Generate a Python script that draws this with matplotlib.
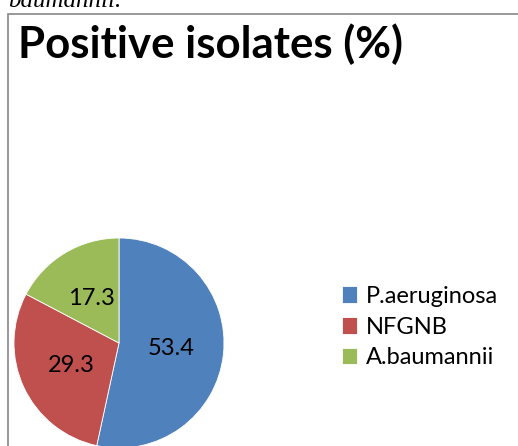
import matplotlib
matplotlib.use("Agg")
import matplotlib.pyplot as plt
from matplotlib.patches import Rectangle

# data
organismos = ["P.aeruginosa", "NFGNB", "A.baumannii"]
valores = [53.4, 29.3, 17.3]
cores = ["#4F81BD", "#C0504D", "#9BBB59"]
rotulos = ["53.4", "29.3", "17.3"]
titulo = "Positive isolates (%)"

plt.rcParams['font.family'] = ['Lato', 'DejaVu Sans']

W, H = 518, 446
fig = plt.figure(figsize=(W / 100, H / 100), dpi=100)

# caption text cut at the top of the page
fig.text(8 / W, 1 - 7 / H, "baumannii.", family="Liberation Serif", style="italic",
         fontsize=18, va="baseline", ha="left")

# chart frame
fig.patches.append(Rectangle((8 / W, -0.1), 1.2, 1 - 14 / H + 0.1, transform=fig.transFigure,
                             fill=False, edgecolor="#888888", linewidth=1.2))

fig.text(18 / W, 1 - 58 / H, titulo, fontsize=31.5, fontweight="bold", va="baseline", ha="left")

# pie
cx, cy, r = 119, 343, 105
ax = fig.add_axes([(cx - r) / W, (H - cy - r) / H, 2 * r / W, 2 * r / H])
wedges, textos = ax.pie(valores, colors=cores, startangle=90, counterclock=False,
                        labels=rotulos, labeldistance=0.5,
                        wedgeprops={'edgecolor': 'white', 'linewidth': 0.6},
                        textprops={'fontsize': 17, 'ha': 'center', 'va': 'center'})
ax.set_xlim(-1, 1)
ax.set_ylim(-1, 1)
ax.axis("off")

fig.legend(wedges, organismos, loc="center left", bbox_to_anchor=(342 / W, 1 - 327 / H),
           frameon=False, fontsize=17, handlelength=0.65, handleheight=0.7,
           handletextpad=0.35, labelspacing=0.42, borderpad=0, borderaxespad=0)

fig.savefig("out.png", dpi=100)
